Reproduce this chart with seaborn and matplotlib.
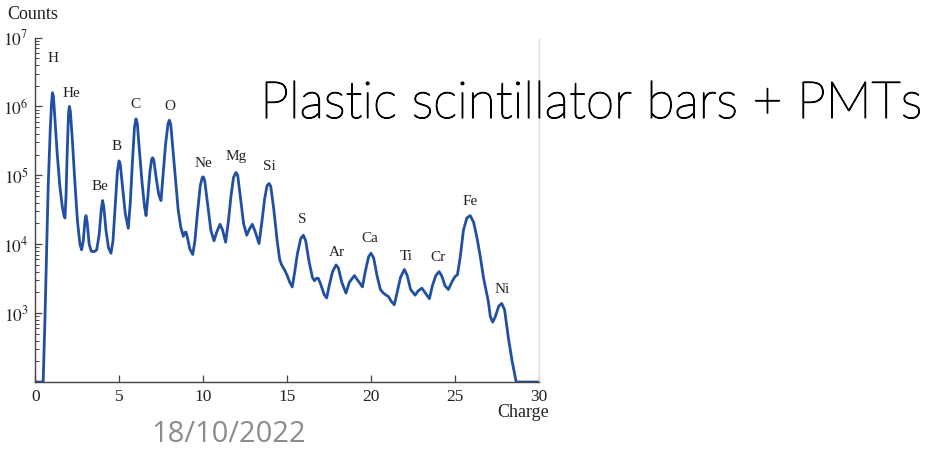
import matplotlib
matplotlib.use("Agg")
import matplotlib.pyplot as plt
import matplotlib.ticker as mticker
import matplotlib.patheffects as pe
import numpy as np
import pandas as pd
import seaborn as sns

# Charge spectrum measured with plastic scintillator bars read out by PMTs
charge = [
    0.0, 0.46, 0.57, 0.76, 0.88, 0.96, 1.01, 1.07, 1.15, 1.3, 1.45, 1.6, 1.7, 1.76,
    1.82, 1.9, 1.97, 2.02, 2.08, 2.2, 2.35, 2.5, 2.65, 2.75,
    2.85, 2.95, 3.01, 3.08, 3.2, 3.33, 3.5, 3.65, 3.8, 3.92, 4.0, 4.07, 4.2, 4.35, 4.5,
    4.62, 4.75, 4.88, 4.98, 5.06, 5.2, 5.35, 5.53,
    5.65, 5.78, 5.9, 5.99, 6.07, 6.2, 6.35, 6.5, 6.59,
    6.7, 6.82, 6.92, 6.98, 7.05, 7.2, 7.35, 7.48,
    7.6, 7.75, 7.9, 7.98, 8.06, 8.2, 8.35, 8.5, 8.65, 8.81, 8.9, 8.97, 9.05, 9.2, 9.37,
    9.5, 9.65, 9.82, 9.94, 10.0, 10.08, 10.25, 10.45, 10.64, 10.8, 11.0, 11.15, 11.33,
    11.5, 11.65, 11.8, 11.95, 12.05, 12.2, 12.4, 12.59, 12.75, 12.92, 13.1, 13.32,
    13.5, 13.65, 13.8, 13.92, 14.02, 14.2, 14.4, 14.55, 14.67, 14.85, 15.0, 15.15, 15.3,
    15.45, 15.6, 15.8, 15.96, 16.1, 16.3, 16.5, 16.62, 16.75, 16.85, 17.0, 17.2, 17.35,
    17.5, 17.7, 17.91, 18.05, 18.25, 18.5, 18.7, 19.0, 19.2, 19.48,
    19.65, 19.85, 19.99, 20.15, 20.35, 20.55, 20.73, 20.9, 21.03, 21.2, 21.38,
    21.55, 21.75, 21.98, 22.15, 22.35, 22.62, 22.8, 23.02, 23.2, 23.47,
    23.65, 23.85, 24.05, 24.2, 24.4, 24.6, 24.8, 25.0, 25.14, 25.3, 25.5, 25.7, 25.9,
    26.1, 26.3, 26.49, 26.7, 26.98, 27.1, 27.24, 27.4, 27.6, 27.78, 27.95, 28.18, 28.4,
    28.64, 30.0,
]
counts = [
    100, 100, 890, 7.1e4, 4.5e5, 1.12e6, 1.58e6, 1.41e6, 7.1e5, 2.0e5, 7.1e4, 3.5e4, 2.6e4, 2.4e4,
    5.0e4, 2.5e5, 7.9e5, 1.0e6, 8.5e5, 3.2e5, 7.9e4, 2.2e4, 1.0e4, 8.3e3,
    1.12e4, 2.2e4, 2.6e4, 2.1e4, 1.0e4, 7.9e3, 7.8e3, 8.3e3, 1.4e4, 3.2e4, 4.3e4, 3.5e4, 1.6e4, 8.9e3, 7.4e3,
    1.12e4, 3.5e4, 1.12e5, 1.62e5, 1.41e5, 6.3e4, 2.8e4, 1.7e4,
    4.0e4, 1.6e5, 5.0e5, 6.6e5, 5.6e5, 2.2e5, 7.9e4, 3.5e4, 2.6e4,
    5.0e4, 1.12e5, 1.7e5, 1.8e5, 1.66e5, 8.9e4, 5.2e4, 4.3e4,
    1.0e5, 2.8e5, 5.6e5, 6.3e5, 5.5e5, 2.2e5, 7.9e4, 3.2e4, 1.8e4, 1.3e4, 1.48e4, 1.5e4, 1.26e4, 8.5e3, 7.1e3,
    1.12e4, 2.8e4, 7.1e4, 9.3e4, 9.5e4, 8.5e4, 4.0e4, 1.6e4, 1.12e4, 1.5e4, 1.95e4, 1.6e4, 1.07e4,
    2.2e4, 5.0e4, 9.3e4, 1.1e5, 1.0e5, 5.0e4, 2.0e4, 1.35e4, 1.66e4, 1.95e4, 1.5e4, 1.02e4,
    2.2e4, 4.5e4, 7.1e4, 7.6e4, 6.9e4, 3.2e4, 1.12e4, 6.0e3, 5.0e3, 4.2e3, 3.5e3, 2.8e3, 2.4e3,
    4.0e3, 7.1e3, 1.2e4, 1.35e4, 1.12e4, 5.6e3, 3.3e3, 2.95e3, 3.2e3, 3.2e3, 2.6e3, 1.86e3, 1.66e3,
    2.5e3, 4.0e3, 5.0e3, 4.5e3, 2.8e3, 1.95e3, 2.8e3, 3.5e3, 3.0e3, 2.4e3,
    4.0e3, 6.6e3, 7.4e3, 6.3e3, 3.5e3, 2.2e3, 1.95e3, 1.82e3, 1.74e3, 1.48e3, 1.32e3,
    2.0e3, 3.3e3, 4.3e3, 3.5e3, 2.2e3, 1.82e3, 2.1e3, 2.3e3, 2.0e3, 1.62e3,
    2.5e3, 3.5e3, 4.0e3, 3.5e3, 2.5e3, 2.2e3, 2.8e3, 3.4e3, 3.6e3, 6.3e3, 1.6e4, 2.4e4, 2.6e4,
    2.1e4, 1.26e4, 6.9e3, 3.2e3, 1.48e3, 890, 740, 890, 1.26e3, 1.38e3, 1.12e3, 430, 200,
    100, 100,
]

# Element names and where their labels sit (charge, counts)
elements = ["H", "He", "Be", "B", "C", "O", "Ne", "Mg", "Si", "S", "Ar", "Ca", "Ti", "Cr", "Fe", "Ni"]
label_x = [1.04, 2.12, 3.84, 4.86, 5.93, 8.02, 9.98, 11.95, 13.92, 15.92, 17.97, 19.93, 22.08, 24.0, 25.89, 27.8]
label_y = [5.0e6, 1.56e6, 6.8e4, 2.6e5, 1.08e6, 1.01e6, 1.46e5, 1.85e5, 1.36e5, 2.3e4, 7.7e3, 1.23e4, 6.7e3, 6.5e3, 4.1e4, 2.2e3]

x_ticks = [0, 5, 10, 15, 20, 25, 30]
y_decades = [3, 4, 5, 6, 7]

sns.set_theme(style="white")
plt.rcParams["font.family"] = ["Liberation Serif", "DejaVu Serif"]
plt.rcParams["mathtext.fontset"] = "stix"

fig = plt.figure(figsize=(9.33, 4.51), dpi=100)
ax = fig.add_axes([0.038, 0.153, 0.5397, 0.7638])

df = pd.DataFrame({"Charge": charge, "Counts": counts})
sns.lineplot(data=df, x="Charge", y="Counts", ax=ax, color="#2150a3",
             linewidth=2.0, estimator=None, sort=False)

ax.set_yscale("log")
ax.set_xlim(0, 30)
ax.set_ylim(1e2, 1e7)
ax.set_xlabel("")
ax.set_ylabel("")

ax.set_xticks(x_ticks)
ax.set_xticklabels([str(t) for t in x_ticks], fontsize=12.5)
ax.set_yticks([10.0 ** d for d in y_decades])
ax.set_yticklabels([rf"$10^{{{d}}}$" for d in y_decades], fontsize=12.5)
ax.yaxis.set_minor_locator(mticker.LogLocator(base=10, subs=np.arange(2, 10)))
ax.yaxis.set_minor_formatter(mticker.NullFormatter())

ax.tick_params(axis="both", which="major", direction="in", length=5, width=0.9,
               color="#444444", labelcolor="#222222", pad=5)
ax.tick_params(axis="y", which="minor", direction="in", length=3, width=0.7,
               color="#444444", left=True)
ax.tick_params(axis="x", which="both", bottom=True)
ax.tick_params(axis="y", which="both", left=True)

for side in ["left", "bottom"]:
    ax.spines[side].set_color("#444444")
    ax.spines[side].set_linewidth(1.0)
ax.spines["top"].set_visible(False)
ax.spines["right"].set_color("#e2e2e2")
ax.spines["right"].set_linewidth(1.0)

for name, lx, ly in zip(elements, label_x, label_y):
    ax.text(lx, ly, name, ha="center", va="center", fontsize=11, color="#222222")

fig.text(0.008, 0.967, "Counts", ha="left", va="center", fontsize=13, color="#222222")
fig.text(0.588, 0.086, "Charge", ha="right", va="center", fontsize=13, color="#222222")

title = fig.text(0.989, 0.770, "Plastic scintillator bars + PMTs", ha="right", va="center",
                 fontsize=37, color="black", family=["Lato", "DejaVu Sans"], fontweight="light")
title.set_path_effects([pe.withStroke(linewidth=0.9, foreground="black")])
fig.text(0.162, 0.036, "18/10/2022", ha="left", va="center", fontsize=21,
         color="#8c8c8c", family=["Open Sans", "DejaVu Sans"])

fig.savefig("out.png", dpi=100)
